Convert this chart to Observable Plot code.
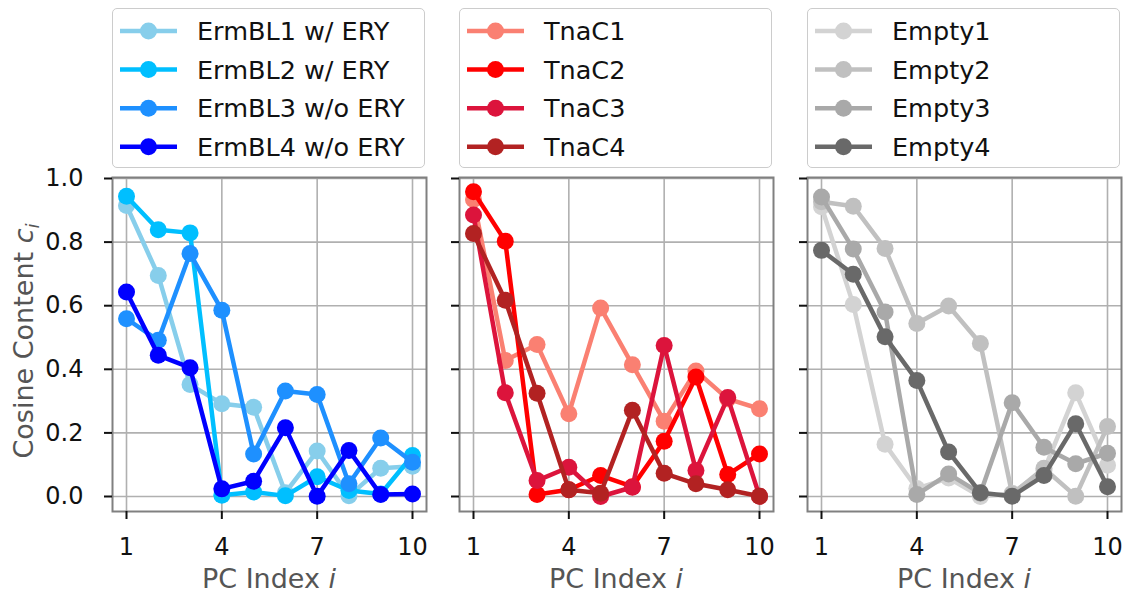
<!DOCTYPE html>
<html>
<head>
<meta charset="utf-8">
<script src="https://cdn.jsdelivr.net/npm/d3@7"></script>
<script src="https://cdn.jsdelivr.net/npm/@observablehq/plot@0.6"></script>
<style>
  html, body { margin: 0; padding: 0; background: white; }
  #root { position: relative; width: 1124px; height: 593px; font-family: "DejaVu Sans", sans-serif; overflow: hidden; }
  .panel { position: absolute; top: 170px; }
  .legend { position: absolute; top: 8px; height: 160px; width: 313px; border: 1px solid #cccccc; border-radius: 5px; box-sizing: border-box; background: white; }
  .xlabel { position: absolute; top: 563px; font-size: 27px; line-height: 32px; color: #555555; text-align: center; width: 314px; }
  .ylabel { position: absolute; font-size: 27px; line-height: 32px; color: #555555; white-space: nowrap; transform-origin: center center; }
</style>
</head>
<body>
<div id="root"></div>
<script>
// ---- data ----
const pcIndex = [1, 2, 3, 4, 5, 6, 7, 8, 9, 10];
const xTicks = [1, 4, 7, 10];
const yTicks = [0.0, 0.2, 0.4, 0.6, 0.8, 1.0];

const ermNames = ["ErmBL1 w/ ERY", "ErmBL2 w/ ERY", "ErmBL3 w/o ERY", "ErmBL4 w/o ERY"];
const ermColors = ["#87CEEB", "#00BFFF", "#1E90FF", "#0000FF"];
const ermBL1 = [0.915, 0.695, 0.352, 0.292, 0.281, 0.012, 0.143, 0.002, 0.089, 0.095];
const ermBL2 = [0.944, 0.839, 0.829, 0.004, 0.014, 0.002, 0.062, 0.019, 0.008, 0.129];
const ermBL3 = [0.559, 0.491, 0.764, 0.586, 0.134, 0.332, 0.321, 0.040, 0.184, 0.108];
const ermBL4 = [0.643, 0.444, 0.405, 0.024, 0.048, 0.216, 0.001, 0.145, 0.006, 0.008];

const tnaNames = ["TnaC1", "TnaC2", "TnaC3", "TnaC4"];
const tnaColors = ["#FA8072", "#FF0000", "#DC143C", "#B22222"];
const tnaC1 = [0.934, 0.428, 0.478, 0.260, 0.593, 0.414, 0.237, 0.395, 0.307, 0.276];
const tnaC2 = [0.958, 0.803, 0.006, 0.021, 0.066, 0.031, 0.174, 0.376, 0.069, 0.134];
const tnaC3 = [0.885, 0.326, 0.050, 0.092, 0.000, 0.029, 0.475, 0.082, 0.311, 0.001];
const tnaC4 = [0.827, 0.617, 0.325, 0.021, 0.010, 0.271, 0.073, 0.040, 0.021, 0.001];

const emptyNames = ["Empty1", "Empty2", "Empty3", "Empty4"];
const emptyColors = ["#D3D3D3", "#C0C0C0", "#A9A9A9", "#696969"];
const empty1 = [0.911, 0.604, 0.164, 0.025, 0.058, 0.000, 0.010, 0.082, 0.326, 0.098];
const empty2 = [0.927, 0.913, 0.780, 0.544, 0.599, 0.481, 0.008, 0.089, 0.001, 0.220];
const empty3 = [0.942, 0.778, 0.580, 0.006, 0.071, 0.010, 0.295, 0.155, 0.103, 0.136];
const empty4 = [0.774, 0.699, 0.502, 0.365, 0.140, 0.012, 0.001, 0.066, 0.229, 0.031];

// ---- layout ----
const root = document.getElementById("root");
const panels = [
  {names: ermNames, colors: ermColors, series: [ermBL1, ermBL2, ermBL3, ermBL4], left: 0, width: 440, marginLeft: 112, labels: true},
  {names: tnaNames, colors: tnaColors, series: [tnaC1, tnaC2, tnaC3, tnaC4], left: 440, width: 340, marginLeft: 19, labels: false},
  {names: emptyNames, colors: emptyColors, series: [empty1, empty2, empty3, empty4], left: 780, width: 344, marginLeft: 27, labels: false}
];
const frameW = 314;

panels.forEach(p => {
  const marks = [
    Plot.gridX(xTicks, {stroke: "#b0b0b0", strokeOpacity: 1, strokeWidth: 1.6}),
    Plot.gridY(yTicks, {stroke: "#b0b0b0", strokeOpacity: 1, strokeWidth: 1.6}),
    Plot.frame({stroke: "#808080", strokeWidth: 2}),
    Plot.axisX(xTicks, {tickSize: 8, tickPadding: 18, strokeWidth: 2, stroke: "#111", fill: "#111", fontSize: 24, label: null, tickFormat: d => String(d)}),
    Plot.axisY(yTicks, {tickSize: 8, tickPadding: 21, strokeWidth: 2, stroke: "#111", fill: "#111", fontSize: 24, label: null,
      tickFormat: p.labels ? d3.format(".1f") : () => ""})
  ];
  p.series.forEach((vals, i) => {
    const data = pcIndex.map((x, j) => ({x, y: vals[j]}));
    marks.push(Plot.line(data, {x: "x", y: "y", stroke: p.colors[i], strokeWidth: 4.5}));
    marks.push(Plot.dot(data, {x: "x", y: "y", fill: p.colors[i], r: 8.5, stroke: "none"}));
  });
  const chart = Plot.plot({
    width: p.width,
    height: 423,
    marginLeft: p.marginLeft,
    marginRight: p.width - p.marginLeft - frameW,
    marginTop: 7,
    marginBottom: 82,
    x: {domain: [1, 10], range: [p.marginLeft + 14, p.marginLeft + 300]},
    y: {domain: [0, 1], range: [326, 8]},
    style: {fontFamily: "DejaVu Sans, sans-serif", fontSize: "24px", background: "transparent", overflow: "visible", color: "#111"},
    marks
  });
  const wrap = document.createElement("div");
  wrap.className = "panel";
  wrap.style.left = p.left + "px";
  wrap.appendChild(chart);
  root.appendChild(wrap);

  // legend
  const fx = p.left + p.marginLeft;
  const leg = document.createElement("div");
  leg.className = "legend";
  leg.style.left = fx + "px";
  const svg = d3.create("svg").attr("width", 313).attr("height", 160)
    .style("position", "absolute").style("left", "0").style("top", "0");
  p.names.forEach((n, i) => {
    const cy = 22 + i * 38.6;
    svg.append("line").attr("x1", 7).attr("x2", 64).attr("y1", cy).attr("y2", cy)
      .attr("stroke", p.colors[i]).attr("stroke-width", 4.5);
    svg.append("circle").attr("cx", 35.5).attr("cy", cy).attr("r", 8.5).attr("fill", p.colors[i]);
    svg.append("text").attr("x", 84).attr("y", cy).attr("dy", "0.36em")
      .attr("font-size", 25.5).attr("fill", "#111").attr("font-family", "DejaVu Sans, sans-serif").text(n);
  });
  leg.appendChild(svg.node());
  root.appendChild(leg);

  // x label
  const xl = document.createElement("div");
  xl.className = "xlabel";
  xl.style.left = fx + "px";
  xl.innerHTML = "PC Index <i>i</i>";
  root.appendChild(xl);
});

// y label
const yl = document.createElement("div");
yl.className = "ylabel";
yl.innerHTML = "Cosine Content <i>c</i><sub style=\"font-size:18px; line-height:0\"><i>i</i></sub>";
root.appendChild(yl);
const r = yl.getBoundingClientRect();
yl.style.left = (24 - r.width / 2) + "px";
yl.style.top = (341 - r.height / 2) + "px";
yl.style.transform = "rotate(-90deg)";
</script>
</body>
</html>
